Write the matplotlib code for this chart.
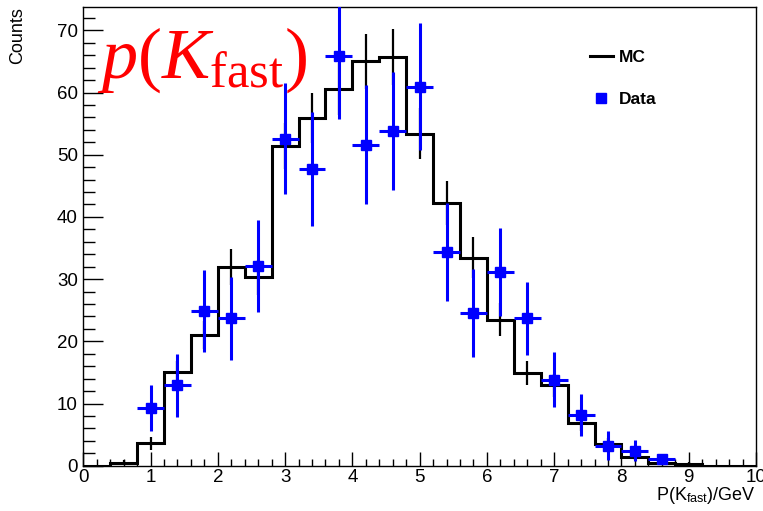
import numpy as np
import matplotlib
matplotlib.use("Agg")
import matplotlib.pyplot as plt
from matplotlib.lines import Line2D
from matplotlib.ticker import MultipleLocator

plt.rcParams["font.family"] = ["Liberation Sans", "DejaVu Sans"]
plt.rcParams["mathtext.fontset"] = "custom"
plt.rcParams["mathtext.rm"] = "Liberation Serif"
plt.rcParams["mathtext.it"] = "Liberation Serif:italic"

# Histogram binning of the kaon momentum
bin_low = 0.0
bin_width = 0.4
n_bins = 25

# Monte Carlo expectation per bin
mc_counts = [0.0, 0.5, 3.6, 15.0, 21.0, 31.9, 30.3, 51.4, 55.9, 60.6, 65.0, 65.7,
             53.4, 42.2, 33.4, 23.5, 14.9, 12.9, 6.9, 3.5, 1.45, 0.5, 0.35, 0.0, 0.0]
mc_errors = [0.0, 0.4, 1.0, 1.9, 2.3, 2.9, 2.8, 3.7, 4.0, 4.2, 4.4, 4.5,
             4.1, 3.5, 3.3, 2.6, 2.0, 1.9, 1.4, 1.0, 0.6, 0.4, 0.3, 0.0, 0.0]

# Measured data points
data_x = [1.0, 1.4, 1.8, 2.2, 2.6, 3.0, 3.4, 3.8, 4.2, 4.6,
          5.0, 5.4, 5.8, 6.2, 6.6, 7.0, 7.4, 7.8, 8.2, 8.6]
data_y = [9.2, 12.9, 24.9, 23.7, 32.1, 52.6, 47.7, 65.8, 51.6, 53.8,
          60.9, 34.4, 24.5, 31.1, 23.7, 13.8, 8.1, 3.2, 2.4, 1.1]
data_err = [3.7, 5.1, 6.6, 6.7, 7.4, 8.9, 9.2, 10.0, 9.6, 9.5,
            10.2, 7.9, 7.1, 7.1, 5.9, 4.4, 3.4, 2.3, 1.7, 0.6]

edges = bin_low + bin_width * np.arange(n_bins + 1)
centers = 0.5 * (edges[:-1] + edges[1:])

W, H = 763, 511
fig = plt.figure(figsize=(W / 100, H / 100), dpi=100)
ax = fig.add_axes([83.3 / W, 1 - 465.7 / H, (756 - 83.3) / W, (465.7 - 7.3) / H])

ax.stairs(mc_counts, edges, color="black", lw=2.2, zorder=2)
ax.errorbar(centers, mc_counts, yerr=mc_errors, fmt="none", ecolor="black",
            elinewidth=1.6, capsize=0, zorder=2)
ax.errorbar(data_x, data_y, xerr=bin_width / 2, yerr=data_err, fmt="s",
            color="#0000ff", ms=7.2, elinewidth=2.2, capsize=0, zorder=3)

ax.set_xlim(0, 10)
ax.set_ylim(0, 73.7)
ax.xaxis.set_major_locator(MultipleLocator(1))
ax.xaxis.set_minor_locator(MultipleLocator(0.2))
ax.yaxis.set_major_locator(MultipleLocator(10))
ax.yaxis.set_minor_locator(MultipleLocator(2))
ax.tick_params(axis="x", which="major", direction="in", length=10, width=1.0,
               labelsize=13.5, pad=2.5)
ax.tick_params(axis="x", which="minor", direction="in", length=5, width=1.0)
ax.tick_params(axis="y", which="major", direction="in", length=14.5, width=1.0,
               labelsize=13.5, pad=4)
ax.tick_params(axis="y", which="minor", direction="in", length=8.5, width=1.0)
for s in ax.spines.values():
    s.set_linewidth(1.0)

fig.text(18 / W, 1 - 7 / H, "Counts", rotation=90, ha="center", va="top",
         fontsize=13)
fig.text(756 / W, 1 - 500 / H, r"P(K$_{\mathregular{fast}}$)/GeV", ha="right",
         va="baseline", fontsize=13)

fig.text(97 / W, 1 - 78 / H, r"$p(K_{\mathrm{fast}})$", color="#ff0000",
         fontsize=52, ha="left", va="baseline")

handles = [Line2D([], [], color="black", lw=2.2),
           Line2D([], [], color="#0000ff", marker="s", ls="none", ms=7.2)]
ax.legend(handles, ["MC", "Data"], loc="center left",
          bbox_to_anchor=(590 / W, 1 - 78.5 / H), bbox_transform=fig.transFigure,
          frameon=False, prop={"weight": "bold", "size": 12.5},
          handlelength=1.3, handletextpad=0.35, borderpad=0, borderaxespad=0,
          labelspacing=1.5)

fig.savefig("out.png", dpi=100)
